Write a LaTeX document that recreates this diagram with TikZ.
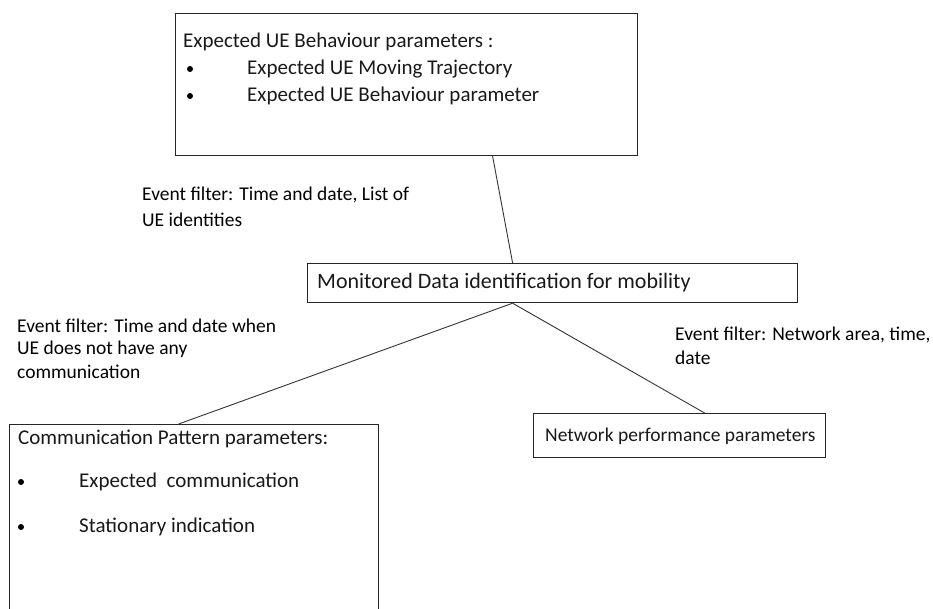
\documentclass[tikz,border=0pt]{standalone}
\usepackage{fontspec}
\setmainfont{Carlito}
\usetikzlibrary{positioning}

\begin{document}
\begin{tikzpicture}[x=1pt, y=-1pt,
  box/.style={draw=black!85, line width=1.2pt, rectangle, inner sep=0pt, anchor=north west},
  boxtext/.style={anchor=west, inner sep=0pt, text=black!90, font=\fontsize{21}{25}\selectfont},
  filt/.style={anchor=west, inner sep=0pt, font=\fontsize{19.5}{23}\selectfont},
  dot/.style={circle, fill=black, inner sep=0pt, minimum size=6pt},
  link/.style={draw=black!80, line width=0.9pt}]
  \clip (0,0) rectangle (933,609);
  % boxes
  \node[box, minimum width=462pt, minimum height=142pt] (behav) at (175,13) {};
  \node[box, minimum width=490pt, minimum height=39pt] (mon) at (307,263) {};
  \node[box, minimum width=369pt, minimum height=230pt] (comm) at (9,424) {};
  \node[box, minimum width=292pt, minimum height=44pt] (netw) at (533,413) {};
  % box texts
  \node[boxtext] (behavt) at (183,42) {Expected UE Behaviour parameters :};
  \node[dot] (behavd1) at (190,69) {};
  \node[boxtext] (behav1) at (247,69) {Expected UE Moving Trajectory};
  \node[dot] (behavd2) at (190,96) {};
  \node[boxtext] (behav2) at (247,96) {Expected UE Behaviour parameter};
  \node[boxtext, font=\fontsize{22}{26}\selectfont] (mont) at (317,283) {Monitored Data identification for mobility};
  \node[boxtext] (commt) at (18,439) {Communication Pattern parameters:};
  \node[dot] (commd1) at (21,482) {};
  \node[boxtext] (comm1) at (79,482) {Expected\ \ communication};
  \node[dot] (commd2) at (21,527) {};
  \node[boxtext] (comm2) at (79,527) {Stationary indication};
  \node[boxtext, font=\fontsize{19.5}{23}\selectfont] (netwt) at (545,436) {Network performance parameters};
  % filter labels
  \node[filt] (f1a) at (142,195) {Event filter: Time and date, List of};
  \node[filt] (f1b) at (142,220) {UE identities};
  \node[filt] (f2a) at (17,326) {Event filter: Time and date when};
  \node[filt] (f2b) at (17,349) {UE does not have any};
  \node[filt] (f2c) at (17,372) {communication};
  \node[filt] (f3a) at (675,335) {Event filter: Network area, time,};
  \node[filt] (f3b) at (675,358) {date};
  % links
  \path[link] ([xshift=86pt]behav.south) -- ([xshift=-40pt]mon.north);
  \path[link] ([xshift=-40pt]mon.south) -- ([xshift=-15.5pt]comm.north);
  \path[link] ([xshift=-40pt]mon.south) -- ([xshift=25pt]netw.north);
\end{tikzpicture}
\end{document}
